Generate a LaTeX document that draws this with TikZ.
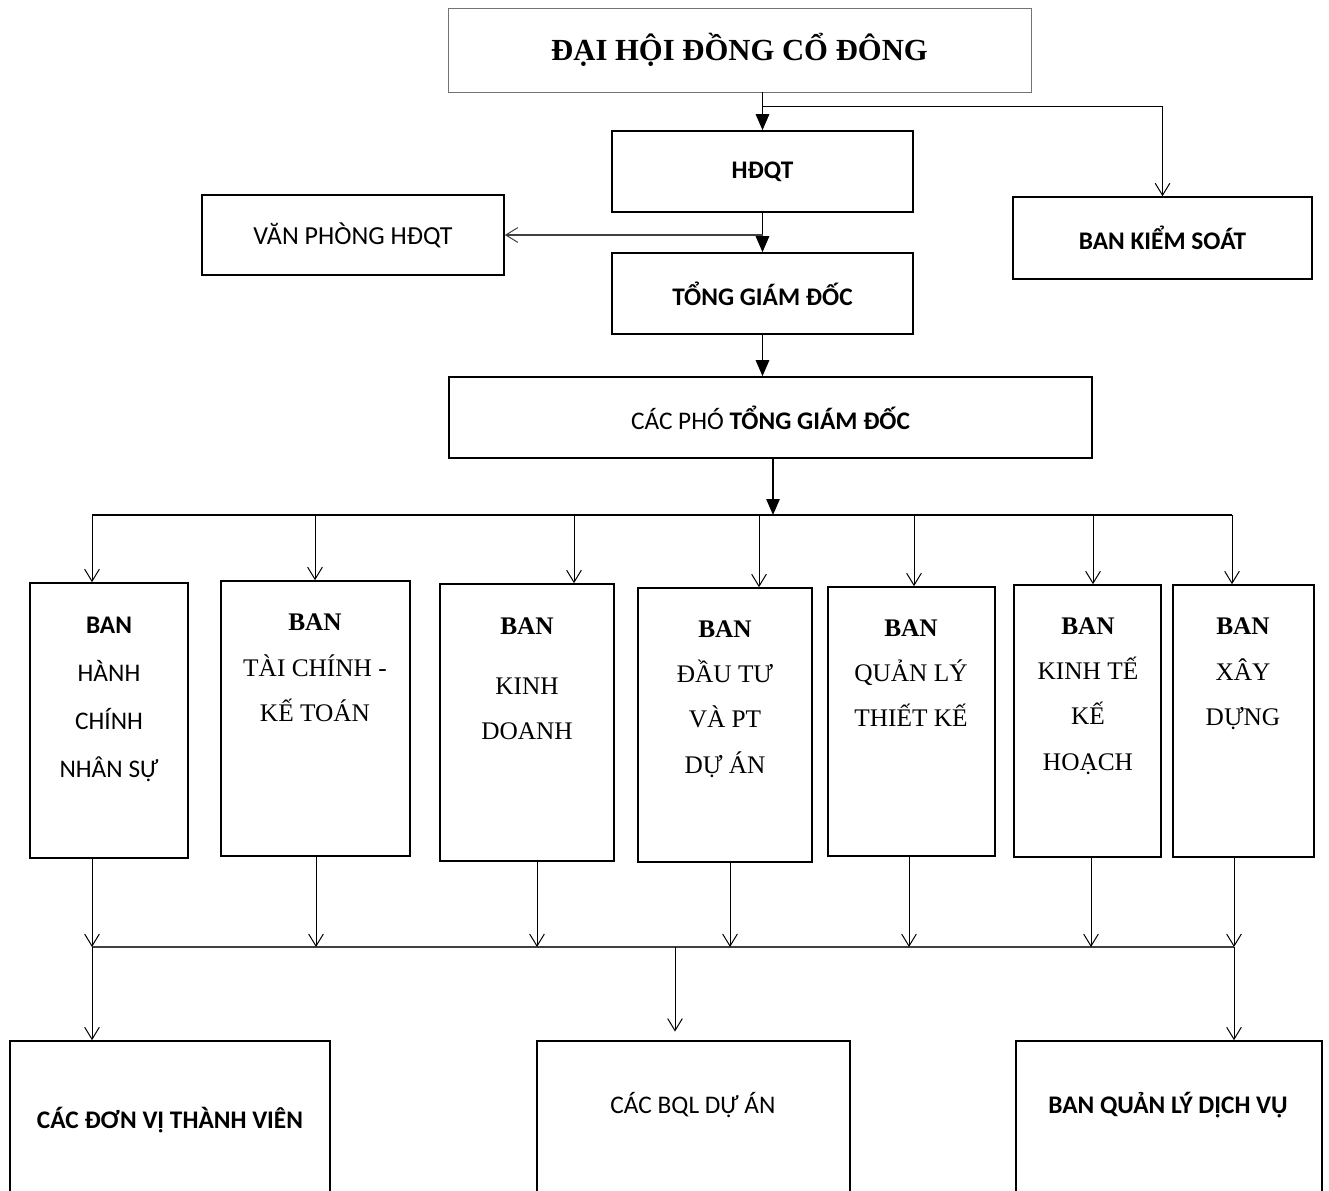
\documentclass[tikz,border=0pt]{standalone}
\usepackage{fontspec}
\setmainfont{Liberation Serif}
\newfontfamily\calib{Carlito}
\usetikzlibrary{arrows.meta,fit,calc}
\begin{document}
\begin{tikzpicture}[x=0.75pt,y=-0.75pt,
  box/.style={draw=black,line width=1.2pt,inner sep=0pt},
  topbox/.style={draw=black!55,line width=0.7pt,inner sep=0pt},
  sans/.style={font=\calib\fontsize{19}{23}\selectfont},
  sansb/.style={font=\calib\bfseries\fontsize{19}{23}\selectfont},
  vtxt/.style={inner sep=0pt,align=center,font=\fontsize{19}{34}\selectfont},
  mainarr/.style={line width=1.3pt,-{Triangle[length=12pt,width=10pt]}},
  openarr/.style={line width=0.75pt,-{Straight Barb[length=9pt,width=11pt,line width=0.75pt]}},
  busline/.style={line width=1.2pt},
  thinline/.style={line width=0.9pt,draw=black!75}
]
\clip (0,0) rectangle (1329,1191);
\fill[white] (0,0) rectangle (1329,1191);

% top levels
\node[topbox,minimum width=437.25pt,minimum height=63pt,font=\bfseries\fontsize{23}{27}\selectfont] (top) at (739.5,50) {ĐẠI HỘI ĐỒNG CỔ ĐÔNG};
\node[box,sansb,minimum width=225.75pt,minimum height=60.75pt] (hdqt) at (762.5,171.5) {HĐQT};
\node[box,sansb,minimum width=224.25pt,minimum height=61.5pt] (bks) at (1162.5,238) {BAN KIỂM SOÁT};
\node[box,sans,minimum width=226.5pt,minimum height=60pt,font=\calib\fontsize{19.5}{23}\selectfont] (vp) at (353,235) {VĂN PHÒNG HĐQT};
\node[box,sansb,minimum width=225.75pt,minimum height=60.75pt] (tgd) at (762.5,293.5) {TỔNG GIÁM ĐỐC};
\node[box,sans,minimum width=482.25pt,minimum height=60.75pt] (cpt) at (770.5,417.5) {CÁC PHÓ \textbf{TỔNG GIÁM ĐỐC}};

% departments
\node[box,fit={(30,583)(188,858)}] (b1) {};
\node[box,fit={(221,581)(410,856)}] (b2) {};
\node[box,fit={(440,584)(614,861)}] (b3) {};
\node[box,fit={(638,588)(812,862)}] (b4) {};
\node[box,fit={(828,587)(995,856)}] (b5) {};
\node[box,fit={(1014,585)(1161,857)}] (b6) {};
\node[box,fit={(1173,585)(1314,857)}] (b7) {};

\node[vtxt,font=\calib\fontsize{19}{36}\selectfont] (t1) at (109,699) {\textbf{BAN}\\HÀNH\\CHÍNH\\NHÂN SỰ};
\node[vtxt] (t2) at (315,668) {\textbf{BAN}\\TÀI CHÍNH -\\KẾ TOÁN};
\node[vtxt] (t3) at (527,679) {\textbf{BAN}\\[11pt]KINH\\DOANH};
\node[vtxt] (t4) at (725,699) {\textbf{BAN}\\ĐẦU TƯ\\VÀ PT\\DỰ ÁN};
\node[vtxt] (t5) at (911,673) {\textbf{BAN}\\QUẢN LÝ\\THIẾT KẾ};
\node[vtxt] (t6) at (1088,696) {\textbf{BAN}\\KINH TẾ\\KẾ\\HOẠCH};
\node[vtxt] (t7) at (1243,674) {\textbf{BAN}\\XÂY\\DỰNG};

% bottom units
\node[box,fit={(10,1041)(330,1210)}] (bA) {};
\node[box,fit={(537,1041)(850,1210)}] (bB) {};
\node[box,fit={(1016,1041)(1322,1210)}] (bC) {};
\node[sansb,inner sep=0pt] (tA) at (170,1120) {CÁC ĐƠN VỊ THÀNH VIÊN};
\node[sans,inner sep=0pt] (tB) at (693,1105) {CÁC BQL DỰ ÁN};
\node[sansb,inner sep=0pt] (tC) at (1168,1105) {BAN QUẢN LÝ DỊCH VỤ};

% upper connectors
\coordinate (j1) at (763,107);
\coordinate (j2) at (763,235);
\draw[mainarr] (top.south -| hdqt.north) -- (hdqt.north);
\draw[openarr] (j1) -| (bks.north);
\draw[mainarr] (hdqt.south) -- (tgd.north);
\draw[openarr,thinline] (j2) -- (vp.east);
\draw[mainarr] (tgd.south) -- (tgd.south |- cpt.north);

% bus to departments
\coordinate (u1) at (92,515);
\coordinate (u2) at (315,515);
\coordinate (u3) at (574,515);
\coordinate (u4) at (759,515);
\coordinate (u5) at (914,515);
\coordinate (u6) at (1093,515);
\coordinate (u7) at (1232,515);
\coordinate (uc) at (773,515);
\draw[busline] (u1) -- (u7);
\draw[mainarr] (cpt.south -| uc) -- (uc);
\foreach \i in {1,...,7} {\draw[openarr] (u\i) -- (u\i |- b\i.north);}

% departments to lower bus
\coordinate (l1) at (92,947);
\coordinate (l2) at (316,947);
\coordinate (l3) at (537,947);
\coordinate (l4) at (730,947);
\coordinate (l5) at (909,947);
\coordinate (l6) at (1091,947);
\coordinate (l7) at (1234,947);
\coordinate (lm) at (675,947);
\draw[thinline] (l1) -- (l7);
\foreach \i in {1,...,7} {\draw[openarr] (l\i |- b\i.south) -- (l\i);}
\draw[openarr] (l1) -- (l1 |- bA.north);
\draw[openarr,shorten >=6.5pt] (lm) -- (lm |- bB.north);
\draw[openarr] (l7) -- (l7 |- bC.north);
\end{tikzpicture}
\end{document}
